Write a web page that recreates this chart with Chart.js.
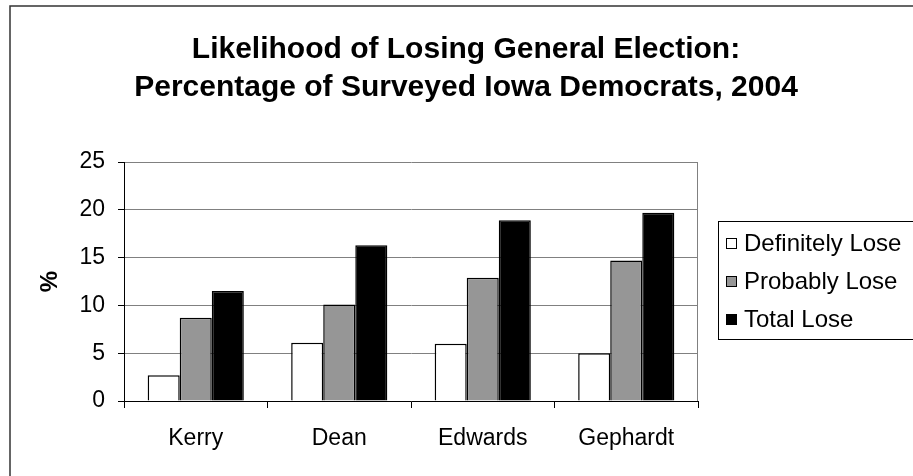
<!DOCTYPE html>
<html>
<head>
<meta charset="utf-8">
<script src="https://cdn.jsdelivr.net/npm/chart.js@4.4.0/dist/chart.umd.min.js"></script>
<style>
	html, body { margin: 0; padding: 0; background: #fff; }
	#wrap { width: 913px; height: 476px; position: relative; }
</style>
</head>
<body>
<div id="wrap"><canvas id="myChart"></canvas></div>
<script>
const categories = ["Kerry", "Dean", "Edwards", "Gephardt"];
const seriesNames = ["Definitely Lose", "Probably Lose", "Total Lose"];
const definitelyLose = [2.7, 6.1, 6.0, 5.0];
const probablyLose = [8.7, 10.1, 12.9, 14.7];
const totalLose = [11.5, 16.3, 18.9, 19.7];
const yTicks = [0, 5, 10, 15, 20, 25];
const titleLines = [
	"Likelihood of Losing General Election:",
	"Percentage of Surveyed Iowa Democrats, 2004",
];
const yTitle = "%";

const fontFamily = "'Liberation Sans', Arial, sans-serif";
const fills = ["#ffffff", "#969696", "#000000"];

// frame, title, plot border and legend box drawn straight onto the canvas
const decorations = {
	id: "decorations",
	afterDraw(chart) {
		const ctx = chart.ctx;
		const area = chart.chartArea;
		ctx.save();

		// outer frame (only top and left edges fall inside the canvas)
		ctx.strokeStyle = "#333";
		ctx.lineWidth = 1.5;
		ctx.beginPath();
		ctx.moveTo(10, 480);
		ctx.lineTo(10, 6);
		ctx.lineTo(920, 6);
		ctx.stroke();

		// plot area right edge
		ctx.strokeStyle = "#808080";
		ctx.lineWidth = 1;
		ctx.beginPath();
		ctx.moveTo(area.right - 0.5, area.top);
		ctx.lineTo(area.right - 0.5, area.bottom);
		ctx.stroke();

		// title
		ctx.fillStyle = "#000";
		ctx.font = "bold 30px " + fontFamily;
		ctx.textAlign = "center";
		ctx.textBaseline = "alphabetic";
		ctx.fillText(titleLines[0], 466, 58);
		ctx.fillText(titleLines[1], 466, 96);

		// legend
		ctx.strokeStyle = "#000";
		ctx.lineWidth = 1;
		ctx.strokeRect(718.5, 221.5, 300, 118);
		ctx.font = "24px " + fontFamily;
		ctx.textAlign = "left";
		ctx.textBaseline = "middle";
		const rowY = [243, 281, 319];
		seriesNames.forEach(function (name, i) {
			const y = rowY[i];
			ctx.fillStyle = fills[i];
			ctx.fillRect(726, y - 5, 11, 11);
			ctx.strokeRect(726.5, y - 4.5, 10, 10);
			ctx.fillStyle = "#000";
			ctx.fillText(name, 744, y + 1);
		});
		ctx.restore();
	},
};

const datasets = [definitelyLose, probablyLose, totalLose].map(function (values, i) {
	return {
		label: seriesNames[i],
		data: values,
		backgroundColor: fills[i],
		borderColor: "#000",
		borderWidth: 1.5,
		borderSkipped: "bottom",
		categoryPercentage: 0.67,
		barPercentage: 1.0,
	};
});

const ctx = document.getElementById("myChart").getContext("2d");
const myChart = new Chart(ctx, {
	type: "bar",
	data: {
		labels: categories,
		datasets: datasets,
	},
	plugins: [decorations],
	options: {
		responsive: true,
		maintainAspectRatio: false,
		animation: false,
		layout: {
			padding: { top: 162, right: 215, bottom: 0, left: 0 },
		},
		plugins: {
			legend: { display: false },
			title: { display: false },
			tooltip: { enabled: false },
		},
		scales: {
			x: {
				grid: {
					offset: true,
					drawOnChartArea: false,
					drawTicks: true,
					tickLength: 7,
					tickColor: "#000",
				},
				border: { color: "#000", width: 1 },
				ticks: {
					color: "#000",
					padding: 17,
					font: { family: fontFamily, size: 23 },
				},
				afterFit: function (scale) {
					scale.height = 75;
				},
			},
			y: {
				min: 0,
				max: 25,
				afterBuildTicks: function (scale) {
					scale.ticks = yTicks.map(function (v) {
						return { value: v };
					});
				},
				grid: {
					color: "#808080",
					tickColor: "#000",
					tickLength: 6,
				},
				border: { color: "#000", width: 1 },
				ticks: {
					color: "#000",
					padding: 13,
					font: { family: fontFamily, size: 23 },
				},
				title: {
					display: true,
					text: yTitle,
					color: "#000",
					font: { family: fontFamily, size: 24, weight: "bold" },
					padding: { top: 36, bottom: 0 },
				},
				afterFit: function (scale) {
					scale.width = 124;
				},
			},
		},
	},
});
</script>
</body>
</html>
